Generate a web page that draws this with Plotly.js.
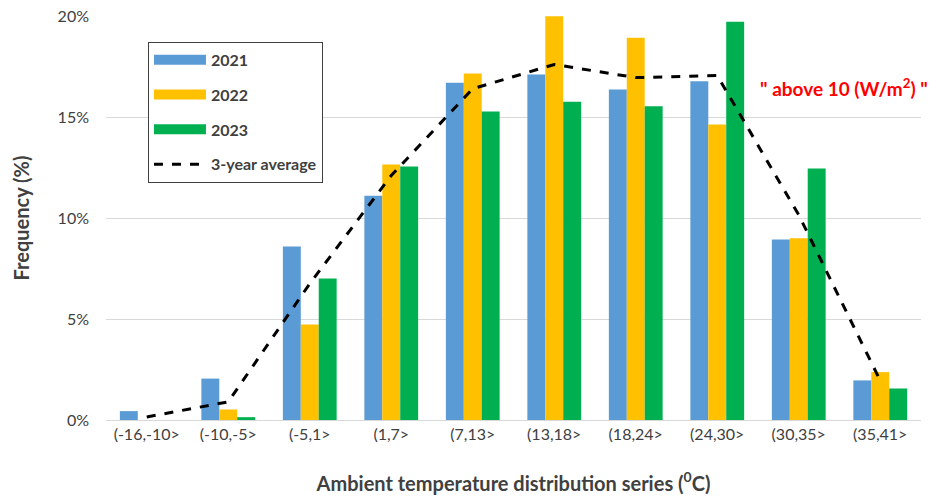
<!DOCTYPE html>
<html>
<head>
<meta charset="utf-8">
<script src="https://cdn.plot.ly/plotly-3.0.1.min.js"></script>
<style>html,body{margin:0;padding:0;background:#fff;}#chart{width:935px;height:500px;}</style>
</head>
<body>
<div id="chart"></div>
<script>
const categories = ["(-16,-10>", "(-10,-5>", "(-5,1>", "(1,7>", "(7,13>", "(13,18>", "(18,24>", "(24,30>", "(30,35>", "(35,41>"];
const y2021 = [0.44, 2.05, 8.59, 11.1, 16.69, 17.1, 16.36, 16.77, 8.94, 1.96];
const y2022 = [0.0, 0.52, 4.73, 12.65, 17.15, 19.99, 18.92, 14.63, 9.0, 2.37];
const y2023 = [0.0, 0.14, 7.0, 12.55, 15.27, 15.75, 15.53, 19.71, 12.45, 1.56];
const avg3 = [0.15, 0.9, 6.75, 12.1, 16.4, 17.6, 16.95, 17.05, 10.15, 1.95];
const seriesNames = ["2021", "2022", "2023", "3-year average"];
const yTicks = [0, 5, 10, 15, 20];
const yTickText = ["0%", "5%", "10%", "15%", "20%"];

const colors = ["#5b9bd5", "#ffc000", "#00b050"];
const barSeries = [y2021, y2022, y2023];
const traces = [];
barSeries.forEach((ys, i) => {
  traces.push({
    type: "bar", x: categories, y: ys, name: seriesNames[i],
    marker: {color: colors[i]}, showlegend: false, hoverinfo: "x+y"
  });
});
// legend proxies (no visible data)
barSeries.forEach((ys, i) => {
  traces.push({
    type: "scatter", mode: "lines", x: categories, y: categories.map(() => null),
    name: seriesNames[i], legendgroup: "g" + i,
    line: {color: colors[i], width: 10}, hoverinfo: "skip"
  });
});
traces.push({
  type: "scatter", mode: "lines", x: categories, y: avg3, name: seriesNames[3],
  legendgroup: "g3",
  line: {color: "#000000", width: 3, dash: "dash"}
});

const layout = {
  width: 935, height: 500,
  margin: {l: 106, r: 14, t: 16, b: 80},
  paper_bgcolor: "#ffffff", plot_bgcolor: "#ffffff",
  font: {family: "Lato, 'Open Sans', sans-serif", color: "#404040", size: 16},
  barmode: "group", bargap: 0.34, bargroupgap: 0,
  xaxis: {
    type: "category", showgrid: false, showline: true, linecolor: "#d9d9d9", linewidth: 1,
    ticks: "", tickfont: {size: 16, color: "#404040"}, automargin: false,
    title: {text: "Ambient temperature distribution series (<sup>0</sup>C)",
            font: {size: 20, color: "#404040", weight: "bold"}, standoff: 34}
  },
  yaxis: {
    range: [0, 20], tickvals: yTicks, ticktext: yTickText,
    showgrid: true, gridcolor: "#d9d9d9", gridwidth: 1, zeroline: false,
    showline: false, ticks: "", tickfont: {size: 16, color: "#404040"},
    ticklabelstandoff: 16, automargin: false,
    title: {text: "Frequency (%)", font: {size: 20, color: "#404040", weight: "bold"}, standoff: 22}
  },
  legend: {
    x: 0.0515, y: 0.936, xanchor: "left", yanchor: "top",
    bgcolor: "#ffffff", bordercolor: "#404040", borderwidth: 1,
    font: {size: 16, color: "#404040", weight: "bold"},
    traceorder: "grouped", tracegroupgap: 11, itemwidth: 52
  },
  annotations: [{
    xref: "paper", yref: "paper", x: 0.9055, y: 0.824, xanchor: "center", yanchor: "middle",
    text: "\" above 10 (W/m<sup>2</sup>) \"", showarrow: false,
    font: {size: 19, color: "#ff0000", weight: "bold"}
  }]
};

Plotly.newPlot("chart", traces, layout, {displayModeBar: false, staticPlot: true});
</script>
</body>
</html>
